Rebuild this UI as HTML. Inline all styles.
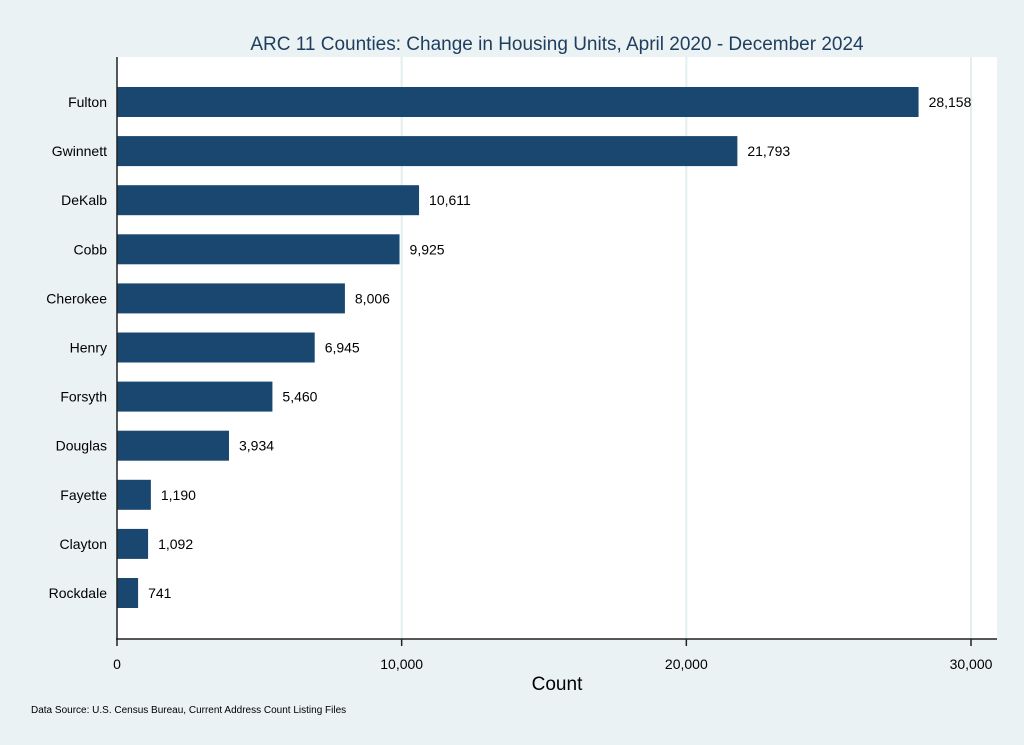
<!DOCTYPE html>
<html><head><meta charset="utf-8"><style>
body{margin:0;background:#eaf2f3;}
svg{display:block;font-family:"Liberation Sans",Arial,sans-serif;}
</style></head><body>
<svg id="chart" width="1024" height="745">
<rect x="0" y="0" width="1024" height="745" fill="#eaf2f3"/>
<rect x="117" y="57" width="880" height="582" fill="#ffffff"/>
<text x="557" y="50" text-anchor="middle" font-size="19" fill="#1e3d5f">ARC 11 Counties: Change in Housing Units, April 2020 - December 2024</text>
<g id="grid"></g><g id="bars"></g>
<line x1="117" y1="57" x2="117" y2="640" stroke="#222" stroke-width="1.5"/>
<line x1="116" y1="639" x2="997" y2="639" stroke="#222" stroke-width="1.5"/>
<g id="ticks"></g>
<text x="557" y="690" text-anchor="middle" font-size="19" fill="#000">Count</text>
<text x="31" y="713" font-size="10" fill="#000">Data Source: U.S. Census Bureau, Current Address Count Listing Files</text>
</svg>
<script>
const categories=["Fulton","Gwinnett","DeKalb","Cobb","Cherokee","Henry","Forsyth","Douglas","Fayette","Clayton","Rockdale"];
const values=[28158,21793,10611,9925,8006,6945,5460,3934,1190,1092,741];
const valueLabels=["28,158","21,793","10,611","9,925","8,006","6,945","5,460","3,934","1,190","1,092","741"];
const tickValues=[0,10000,20000,30000];
const tickLabels=["0","10,000","20,000","30,000"];
const NS="http://www.w3.org/2000/svg";
const x=v=>117+v*(854/30000);
const y=i=>102+i*49.1;
function mk(t,a,p){const e=document.createElementNS(NS,t);for(const k in a)e.setAttribute(k,a[k]);p.appendChild(e);return e;}
const grid=document.getElementById('grid'),bars=document.getElementById('bars'),ticks=document.getElementById('ticks');
tickValues.forEach((v,i)=>{
 if(v>0){const g=mk('line',{x1:x(v),x2:x(v),y1:57,y2:639,stroke:'#e3eef0','stroke-width':2},grid);
 
 }
 const t=mk('line',{x1:x(v),x2:x(v),y1:639,y2:646,stroke:'#222','stroke-width':1.5},ticks);
 
 
 const l=mk('text',{x:x(v),y:669,'text-anchor':'middle','font-size':14,fill:'#000'},ticks);
 l.textContent=tickLabels[i];
 
 
});
categories.forEach((c,i)=>{
 const r=mk('rect',{x:117,y:y(i)-15,width:x(values[i])-117,height:30,fill:'#1a476f'},bars);
 
 
 const l=mk('text',{x:107,y:y(i)+5,'text-anchor':'end','font-size':14,fill:'#000'},bars);
 l.textContent=c;
 
 
 const v=mk('text',{x:x(values[i])+10,y:y(i)+5,'font-size':14,fill:'#000'},bars);
 v.textContent=valueLabels[i];
 
 
});
</script>
</body></html>
